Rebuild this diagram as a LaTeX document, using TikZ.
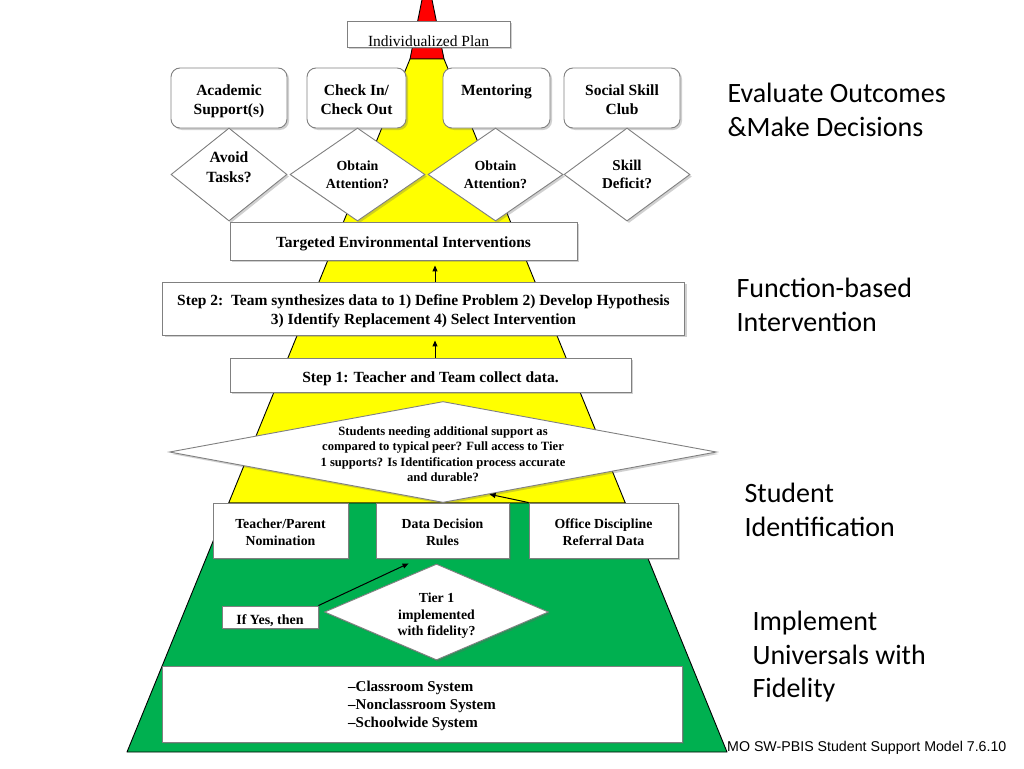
\documentclass[tikz,border=0pt]{standalone}
\usepackage{fontspec}
\setmainfont{Liberation Serif}
\newfontfamily\sidefont{Carlito}
\newfontfamily\notefont{Liberation Sans}
\usetikzlibrary{arrows.meta,positioning,calc,shapes.geometric,shadows}
\definecolor{ink}    {HTML}{000000}
\definecolor{edge}   {HTML}{808080}
\definecolor{tipred} {HTML}{FF0000}
\definecolor{midyel} {HTML}{FFFF00}
\definecolor{basegrn}{HTML}{00B050}
\newcommand\fs[2]{\fontsize{#1}{#2}\selectfont}
\tikzset{
  band/.style ={draw=ink, line width=0.9pt, line join=round},
  box/.style  ={draw=edge, fill=white, line width=0.9pt, inner sep=0pt,
                align=center, font=\fs{15.5}{18.6}\bfseries,
                drop shadow={shadow xshift=2pt, shadow yshift=-2pt,
                             opacity=0.3, fill=black!60}},
  rbox/.style ={box, rounded corners=9pt, text height=32pt, text depth=0pt},
  dbox/.style ={box, shape=diamond},
  small/.style={font=\fs{13.8}{16.7}\bfseries, text height=29pt, text depth=0pt},
  side/.style ={anchor=north west, align=left, font=\sidefont\fs{28}{33.3}},
  arr/.style  ={-{Triangle[length=6pt,width=5pt]}, line width=1pt, draw=ink},
}

\begin{document}
\begin{tikzpicture}[x=1pt,y=-1pt]
  \useasboundingbox (0,0) rectangle (1024,768);
  \fill[white] (0,0) rectangle (1024,768);
  \clip (0,0) rectangle (1024,768);

  \coordinate (apex) at (427,-25);
  \coordinate (tl) at (410,59);
  \coordinate (tr) at (444,59);
  \coordinate (bl) at (127,752);
  \coordinate (br) at (727,752);
  \coordinate (ml) at ($(tl)!0.6407!(bl)$);
  \coordinate (mr) at ($(tr)!0.6407!(br)$);
  \filldraw[band, fill=tipred] (apex) -- (tr) -- (tl) -- cycle;
  \filldraw[band, fill=midyel] (tl) -- (tr) -- (mr) -- (ml) -- cycle;
  \filldraw[band, fill=basegrn] (ml) -- (mr) -- (br) -- (bl) -- cycle;

  \node[box, minimum width=163pt, minimum height=26pt, font=\fs{15.5}{17},
        text height=26pt, text depth=0pt] (ip) at (428.5,34) {Individualized Plan};

  \node[rbox, minimum width=116pt, minimum height=60pt] (acad) at (229,98) {Academic\\Support(s)};
  \node[rbox, minimum width=99pt, minimum height=60pt] (cico) at (356.5,98) {Check In/\\Check Out};
  \node[rbox, minimum width=107pt, minimum height=60pt] (ment) at (496.5,98) {Mentoring\\\phantom{Mg}};
  \node[rbox, minimum width=116pt, minimum height=60pt] (ssc) at (622,98) {Social Skill\\Club};

  \node[dbox, minimum width=116pt, minimum height=93pt, aspect=1.25,
        font=\fs{15.6}{20}\bfseries, text depth=14pt] (avoid) at (229,174.5) {Avoid\\Tasks?};
  \node[dbox, minimum width=135pt, minimum height=93pt, aspect=1.45,
        font=\fs{13.9}{17.7}\bfseries] (attl) at (357.5,174.5) {Obtain\\Attention?};
  \node[dbox, minimum width=135pt, minimum height=93pt, aspect=1.45,
        font=\fs{13.9}{17.7}\bfseries] (attr) at (495.5,174.5) {Obtain\\Attention?};
  \node[dbox, minimum width=126pt, minimum height=93pt, aspect=1.35,
        font=\fs{15}{17.7}\bfseries] (skill) at (627,174.5) {Skill\\Deficit?};

  \node[box, minimum width=347pt, minimum height=38pt, text height=16.5pt] (tei) at (403.5,241)
    {Targeted Environmental Interventions};
  \node[box, minimum width=522pt, minimum height=53pt, text height=32pt, text depth=0pt] (step2) at (423.5,308.5)
    {Step 2:\ \ Team synthesizes data to 1) Define Problem 2) Develop Hypothesis\\
     3) Identify Replacement 4) Select Intervention};
  \node[box, minimum width=401pt, minimum height=34pt, text height=19pt] (step1) at (430.5,375)
    {Step 1: Teacher and Team collect data.};

  \node[dbox, minimum width=547pt, minimum height=101pt, aspect=5.42, inner ysep=-6pt,
        text height=58.7pt, text depth=0pt, font=\fs{12.6}{15.3}\bfseries] (idq) at (443,452)
    {Students needing additional support as\\
     compared to typical peer? Full access to Tier\\
     1 supports? Is Identification process accurate\\
     and durable?};

  \node[box, small, minimum width=135pt, minimum height=55pt] (tpn) at (280.5,530.5) {Teacher/Parent\\Nomination};
  \node[box, small, minimum width=133pt, minimum height=55pt] (ddr) at (442.5,530.5) {Data Decision\\Rules};
  \node[box, small, minimum width=149pt, minimum height=55pt] (odr) at (603.5,530.5) {Office Discipline\\Referral Data};

  \node[box, minimum width=96pt, minimum height=22pt, font=\fs{14}{16}\bfseries,
        text height=17pt] (ify) at (270,617) {If Yes, then};
  \node[dbox, minimum width=224pt, minimum height=96pt, aspect=2.33,
        text height=47.4pt, text depth=0pt, font=\fs{13.8}{16.5}\bfseries] (tier1) at (436.5,612)
    {Tier 1\\implemented\\with fidelity?};

  \node[box, minimum width=520pt, minimum height=76pt, align=left, text height=47.4pt, text depth=0pt,
        font=\fs{15}{18.2}\bfseries] (univ) at (422,704)
    {--Classroom System\\--Nonclassroom System\\--Schoolwide System};

  \coordinate (ax) at (435,0);
  \draw[arr, shorten >=5pt] (step2.north -| ax) -- (tei.south -| ax);
  \draw[arr, shorten >=5pt] (step1.north -| ax) -- (step2.south -| ax);
  \draw[arr] (odr.north west) -- ($(idq.south)!0.17!(idq.east)$);
  \draw[arr] (ify.north east) -- ($(ddr.south west)+(33,5)$);

  \node[side] (eval) at (724,80) {Evaluate Outcomes\\\&Make Decisions};
  \node[side] (fbi) at (733,275) {Function-based\\Intervention};
  \node[side] (sid) at (741,480) {Student\\Identification};
  \node[side] (impl) at (749,608) {Implement\\Universals with\\Fidelity};
  \node[anchor=west, font=\notefont\fs{14.2}{17}, inner sep=0pt] (note) at (727,748)
    {MO SW-PBIS Student Support Model 7.6.10};
\end{tikzpicture}
\end{document}
